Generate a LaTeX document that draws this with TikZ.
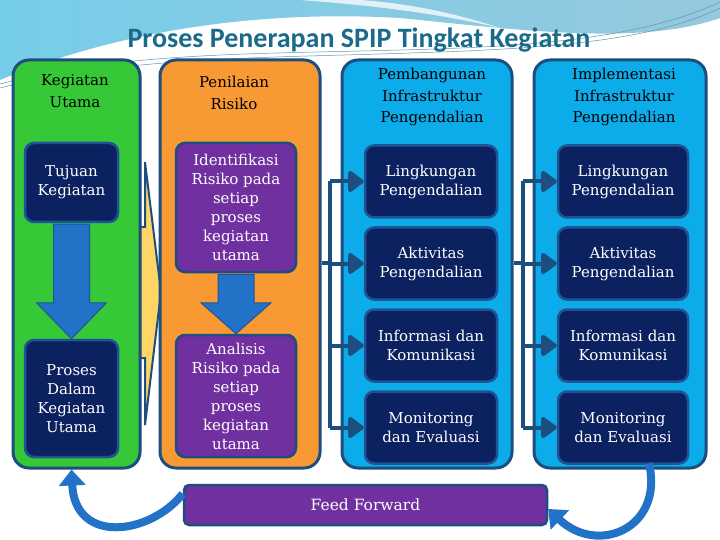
\documentclass[tikz,border=0pt]{standalone}
\usepackage{fontspec}
\setmainfont{DejaVu Serif}
\newfontfamily\titlefont{Carlito}
\usetikzlibrary{arrows.meta, positioning, calc}

\begin{document}
\begin{tikzpicture}[
  x=1pt, y=-1pt,
  execute at begin picture={
    \definecolor{colgreen}{RGB}{54,200,54}
    \definecolor{colorange}{RGB}{248,153,52}
    \definecolor{colblue}{RGB}{12,172,234}
    \definecolor{navy}{RGB}{12,34,96}
    \definecolor{rimblue}{RGB}{30,84,150}
    \definecolor{edgeblue}{RGB}{28,78,128}
    \definecolor{riskpurple}{RGB}{112,48,160}
    \definecolor{arrowblue}{RGB}{34,114,200}
    \definecolor{flowyellow}{RGB}{255,214,102}
    \definecolor{titleteal}{RGB}{26,106,138}
    \definecolor{skyleft}{RGB}{118,205,232}
    \definecolor{skyright}{RGB}{150,200,222}
  },
  colbox/.style={
    rounded corners=16pt,
    draw=edgeblue,
    line width=3pt,
    minimum width=#1,
    minimum height=408pt,
    inner sep=0pt
  },
  header/.style={
    align=center,
    inner sep=0pt,
    font=\fontsize{15}{21.5}\selectfont
  },
  innerbox/.style={
    rounded corners=9pt,
    fill=navy,
    draw=rimblue,
    line width=2.5pt,
    text=white,
    align=center,
    inner sep=0pt,
    font=\fontsize{15}{19}\selectfont
  },
  riskbox/.style={
    innerbox,
    fill=riskpurple,
    draw=edgeblue
  },
  blockarrow/.style={fill=arrowblue, draw=rimblue, line width=1pt},
  bus/.style={draw=edgeblue, line width=4pt},
  branch/.style={draw=edgeblue, line width=4pt,
    -{Triangle[length=17pt, width=24pt, round]}},
  loop/.style={draw=arrowblue, line width=8pt,
    -{Triangle[length=16pt, width=26pt]}},
  swoosh/.style={draw=titleteal!70, line width=0.5pt}
]
\useasboundingbox (0,0) rectangle (720,540);

% background
\fill[white] (0,0) rectangle (720,540);
\shade[left color=skyleft, right color=skyright]
  (0,0) -- (720,0) -- (720,18) .. controls (640,46) and (520,30) .. (400,18)
  .. controls (260,10) and (120,30) .. (0,80) -- cycle;
\fill[white, opacity=0.75] (300,0) .. controls (380,6) and (440,14) .. (500,28)
  .. controls (440,8) and (390,2) .. (360,0) -- cycle;
\draw[swoosh] (0,84) .. controls (120,52) and (260,54) .. (400,50)
  .. controls (520,47) and (640,40) .. (720,2);
\draw[swoosh] (0,88) .. controls (130,56) and (270,58) .. (410,53)
  .. controls (540,49) and (650,42) .. (720,8);

\node[font=\titlefont\bfseries\fontsize{28}{32}\selectfont, text=titleteal]
  (title) at (359,40) {Proses Penerapan SPIP Tingkat Kegiatan};

% flow from Kegiatan Utama to Penilaian Risiko
\filldraw[fill=flowyellow, draw=edgeblue, line width=2pt]
  (128,227) -- (145,227) -- (145,162) -- (161,292) -- (145,425)
  -- (145,358) -- (128,358) -- cycle;

% columns
\node[colbox=127pt, fill=colgreen] (kegiatan) at (76.5,264) {};
\node[colbox=160pt, fill=colorange] (risiko) at (240,264) {};
\node[colbox=170pt, fill=colblue] (bangun) at (427,264) {};
\node[colbox=172pt, fill=colblue] (terap) at (620,264) {};

\node[header] at (75,91) {Kegiatan\\Utama};
\node[header] at (234,93) {Penilaian\\Risiko};
\node[header] at (432,97) {Pembangunan\\Infrastruktur\\Pengendalian};
\node[header] at (624,97) {Implementasi\\Infrastruktur\\Pengendalian};

% Kegiatan Utama
\node[innerbox, minimum width=93pt, minimum height=79pt] (tujuan)
  at (71.5,182.5) {Tujuan\\Kegiatan};
\node[innerbox, minimum width=93pt, minimum height=117pt] (proses)
  at (71.5,398.5) {Proses\\Dalam\\Kegiatan\\Utama};

% Penilaian Risiko
\node[riskbox, minimum width=120pt, minimum height=129pt] (identifikasi)
  at (236,207.5) {Identifikasi\\Risiko pada\\setiap\\proses\\kegiatan\\utama};
\node[riskbox, minimum width=120pt, minimum height=122pt] (analisis)
  at (236,396) {Analisis\\Risiko pada\\setiap\\proses\\kegiatan\\utama};

% down arrows
\foreach \a/\b/\h in {tujuan/proses/36, identifikasi/analisis/31}
  \filldraw[blockarrow]
    ($(\a.south)+(-18,1)$) -- ($(\a.south)+(18,1)$) -- ($(\b.north)+(18,-\h)$)
    -- ($(\b.north)+(35,-\h)$) -- (\b.north) -- ($(\b.north)+(-35,-\h)$)
    -- ($(\b.north)+(-18,-\h)$) -- cycle;

% Pembangunan
\node[innerbox, minimum width=132pt, minimum height=72pt] (lingA)
  at (431,181.5) {Lingkungan\\Pengendalian};
\node[innerbox, minimum width=132pt, minimum height=72pt, below=7.5pt of lingA]
  (aktA) {Aktivitas\\Pengendalian};
\node[innerbox, minimum width=132pt, minimum height=72pt, below=7.5pt of aktA]
  (infoA) {Informasi dan\\Komunikasi};
\node[innerbox, minimum width=132pt, minimum height=72pt, below=7.5pt of infoA]
  (monA) {Monitoring\\dan Evaluasi};

% Implementasi
\node[innerbox, minimum width=130pt, minimum height=72pt] (lingB)
  at (623,181.5) {Lingkungan\\Pengendalian};
\node[innerbox, minimum width=130pt, minimum height=72pt, below=7.5pt of lingB]
  (aktB) {Aktivitas\\Pengendalian};
\node[innerbox, minimum width=130pt, minimum height=72pt, below=7.5pt of aktB]
  (infoB) {Informasi dan\\Komunikasi};
\node[innerbox, minimum width=130pt, minimum height=72pt, below=7.5pt of infoB]
  (monB) {Monitoring\\dan Evaluasi};

% feed forward
\node[innerbox, fill=riskpurple, draw=edgeblue, rounded corners=5pt,
  minimum width=363pt, minimum height=40pt, font=\fontsize{15.5}{19}\selectfont]
  (feed) at (365.5,505) {Feed Forward};

% brackets
\coordinate (busA) at (330,263);
\coordinate (busB) at (523,263);
\draw[bus] (risiko.east |- busA) -- (busA);
\draw[bus] (busA |- lingA.west) -- (busA |- monA.west);
\foreach \b in {lingA, aktA, infoA, monA}
  \draw[branch] (busA |- \b.west) -- (\b.west);
\draw[bus] (bangun.east |- busB) -- (busB);
\draw[bus] (busB |- lingB.west) -- (busB |- monB.west);
\foreach \b in {lingB, aktB, infoB, monB}
  \draw[branch] (busB |- \b.west) -- (\b.west);

% loops
\draw[loop] ([yshift=-10pt]feed.north west) .. controls (150,535) and (75,545)
  .. ([xshift=-5pt]kegiatan.south);
\draw[loop] ([xshift=29pt, yshift=6pt]terap.south) .. controls (664,528) and (598,556)
  .. ([yshift=-4pt]feed.east);

\end{tikzpicture}
\end{document}
